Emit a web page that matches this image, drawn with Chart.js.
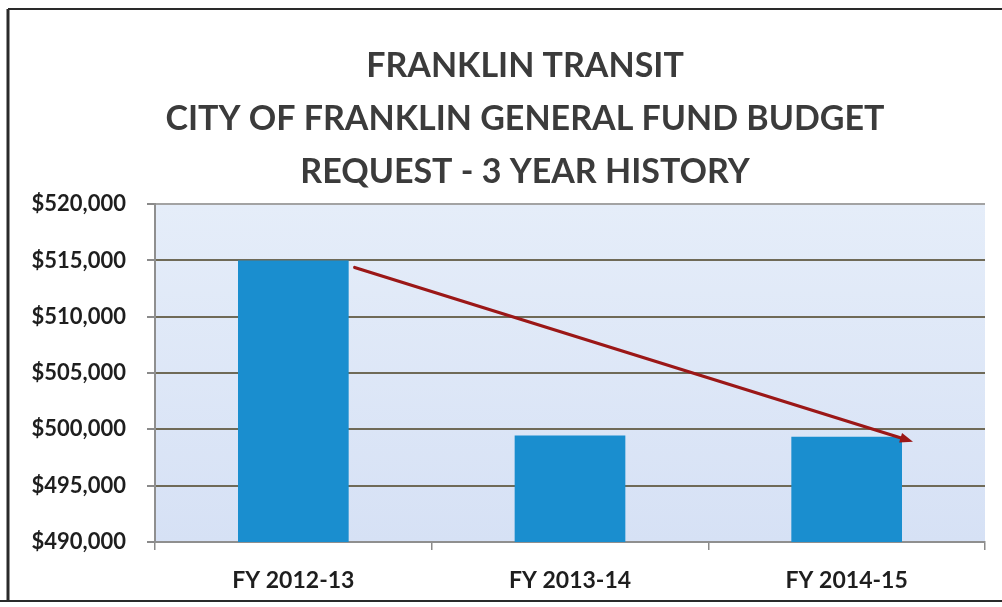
<!DOCTYPE html>
<html><head><meta charset="utf-8">
<script src="https://cdn.jsdelivr.net/npm/chart.js@4"></script>
<style>html,body{margin:0;padding:0;background:#fff}#wrap{width:1002px;height:607px;position:relative}</style>
</head><body><div id="wrap"><canvas id="c" width="1002" height="607"></canvas></div>
<script>
const categories = ['FY 2012-13', 'FY 2013-14', 'FY 2014-15'];
const budgetRequest = [515000, 499450, 499350];
const titleLines = ['FRANKLIN TRANSIT', 'CITY OF FRANKLIN GENERAL FUND BUDGET', 'REQUEST - 3 YEAR HISTORY'];
const yMin = 490000;
const yMax = 520000;
const yStep = 5000;

const fmt = v => '$' + v.toLocaleString('en-US');

const plotBg = {
  id: 'plotBg',
  beforeDraw(chart) {
    const { ctx, chartArea: a } = chart;
    const g = ctx.createLinearGradient(0, a.top, 0, a.bottom);
    g.addColorStop(0, '#e5edf9');
    g.addColorStop(1, '#d6e1f5');
    ctx.save();
    ctx.fillStyle = g;
    ctx.fillRect(a.left, a.top, a.right - a.left, a.bottom - a.top);
    ctx.restore();
  }
};

// Centre the title block over the area right of the outer frame's label column
const titleShift = {
  id: 'titleShift',
  afterLayout(chart) {
    if (chart.titleBlock) {
      chart.titleBlock.left = 65;
    }
  }
};

const frame = {
  id: 'frame',
  afterDraw(chart) {
    const ctx = chart.ctx;
    ctx.save();
    ctx.strokeStyle = '#2a2a2a';
    ctx.lineWidth = 3;
    ctx.beginPath();
    ctx.moveTo(8, 9); ctx.lineTo(8, 601);
    ctx.stroke();
    ctx.lineWidth = 2;
    ctx.beginPath();
    ctx.moveTo(8, 9); ctx.lineTo(1002, 9);
    ctx.moveTo(0, 601); ctx.lineTo(1002, 601);
    ctx.stroke();
    ctx.restore();
  }
};

const trendArrow = {
  id: 'trendArrow',
  afterDatasetsDraw(chart) {
    const meta = chart.getDatasetMeta(0);
    const b0 = meta.data[0], b2 = meta.data[meta.data.length - 1];
    const x0 = b0.x + b0.width / 2 + 6, y0 = b0.y + 7;
    const x1 = b2.x + b2.width / 2 + 11, y1 = b2.y + 5;
    const ctx = chart.ctx;
    const ang = Math.atan2(y1 - y0, x1 - x0);
    const L = 13, W = 5;
    ctx.save();
    ctx.strokeStyle = '#9b1717';
    ctx.fillStyle = '#9b1717';
    ctx.lineWidth = 3.2;
    ctx.lineCap = 'round';
    ctx.beginPath();
    ctx.moveTo(x0, y0);
    ctx.lineTo(x1 - L * 0.7 * Math.cos(ang), y1 - L * 0.7 * Math.sin(ang));
    ctx.stroke();
    ctx.beginPath();
    ctx.moveTo(x1, y1);
    ctx.lineTo(x1 - L * Math.cos(ang) + W * Math.sin(ang), y1 - L * Math.sin(ang) - W * Math.cos(ang));
    ctx.lineTo(x1 - L * Math.cos(ang) - W * Math.sin(ang), y1 - L * Math.sin(ang) + W * Math.cos(ang));
    ctx.closePath();
    ctx.fill();
    ctx.restore();
  }
};

new Chart(document.getElementById('c'), {
  type: 'bar',
  data: {
    labels: categories,
    datasets: [{
      label: 'Budget Request',
      data: budgetRequest,
      backgroundColor: '#1a8ecf',
      borderWidth: 0,
      categoryPercentage: 0.4,
      barPercentage: 1
    }]
  },
  options: {
    responsive: false,
    animation: false,
    layout: { padding: { top: 0, right: 17, bottom: 0, left: 0 } },
    plugins: {
      legend: { display: false },
      tooltip: { enabled: false },
      title: {
        display: true,
        text: titleLines,
        color: '#3b3b3b',
        font: { family: 'Lato', weight: 'bold', size: 34, lineHeight: 1.55 },
        padding: { top: 40, bottom: 6 }
      }
    },
    scales: {
      x: {
        afterFit(s) { s.height = 65; },
        grid: { display: true, offset: true, drawOnChartArea: false, tickLength: 8, color: '#8a8a8a', lineWidth: 1.5 },
        border: { display: true, color: '#8f8f8f', width: 2 },
        ticks: { color: '#1e1e1e', font: { family: 'Lato', weight: 'bold', size: 23 }, padding: 17 }
      },
      y: {
        min: yMin,
        max: yMax,
        afterFit(s) { s.width = 155; },
        grid: {
          color: c => (c.tick && (c.tick.value === yMax || c.tick.value === yMin)) ? '#a3a3a3' : '#6f6a57',
          lineWidth: 2,
          tickLength: 8,
          tickColor: '#8a8a8a'
        },
        border: { display: true, color: '#8f8f8f', width: 2 },
        ticks: {
          stepSize: yStep,
          color: '#1e1e1e',
          font: { family: 'Lato', weight: 'bold', size: 22 },
          padding: 21,
          callback: v => fmt(v)
        }
      }
    }
  },
  plugins: [titleShift, plotBg, trendArrow, frame]
});
</script></body></html>
